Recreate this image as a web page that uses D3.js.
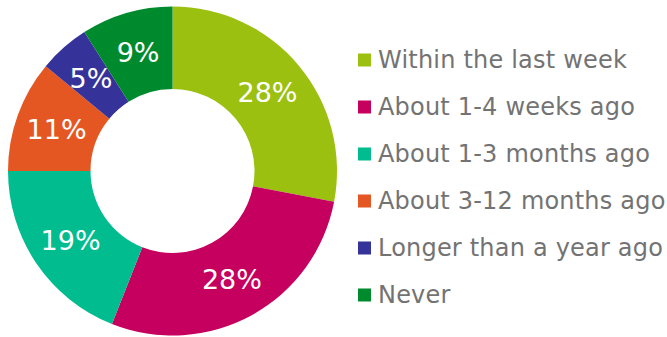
<!DOCTYPE html>
<html>
<head>
<meta charset="utf-8">
<script src="https://cdn.jsdelivr.net/npm/d3@7"></script>
<style>
  html, body { margin: 0; padding: 0; background: #fff; }
  svg { display: block; }
</style>
</head>
<body>
<svg id="chart" width="667" height="337"></svg>
<script>
// Survey answers: when did you last do it?
const categories = [
  "Within the last week",
  "About 1-4 weeks ago",
  "About 1-3 months ago",
  "About 3-12 months ago",
  "Longer than a year ago",
  "Never"
];
const shares = [28, 28, 19, 11, 5, 9];
const colors = ["#9bc010", "#c6005e", "#00bc8e", "#e55722", "#35339a", "#008a2e"];

const svg = d3.select("#chart");
const cx = 172.5, cy = 171, outerR = 164.5, innerR = 82;

const pie = d3.pie().sort(null).value(d => d.value);
const arc = d3.arc().innerRadius(innerR).outerRadius(outerR);
const data = categories.map((c, i) => ({ name: c, value: shares[i], color: colors[i] }));
const arcs = pie(data);

const g = svg.append("g").attr("transform", `translate(${cx},${cy})`);
g.selectAll("path.slice")
  .data(arcs)
  .join("path")
  .attr("class", "slice")
  .attr("d", arc)
  .attr("fill", d => d.data.color);

g.selectAll("text.value")
  .data(arcs)
  .join("text")
  .attr("class", "value")
  .attr("transform", d => `translate(${arc.centroid(d)})`)
  .attr("text-anchor", "middle")
  .attr("dominant-baseline", "central")
  .attr("fill", "#fff")
  .style("font-family", "'DejaVu Sans', Verdana, sans-serif")
  .style("font-size", "27px")
  .text(d => d.data.value + "%");

// Legend
const legendY = d3.scalePoint().domain(categories).range([60, 295]);
const legend = svg.append("g");
const item = legend.selectAll("g.item")
  .data(data)
  .join("g")
  .attr("class", "item")
  .attr("transform", d => `translate(358,${legendY(d.name)})`);
item.append("rect")
  .attr("x", 0).attr("y", -6.5)
  .attr("width", 13).attr("height", 13)
  .attr("fill", d => d.color);
item.append("text")
  .attr("x", 20)
  .attr("y", 0)
  .attr("dominant-baseline", "central")
  .attr("fill", "#737373")
  .style("font-family", "'DejaVu Sans', Verdana, sans-serif")
  .style("font-size", "24px")
  .style("letter-spacing", "0.2px")
  .text(d => d.name);
</script>
</body>
</html>
